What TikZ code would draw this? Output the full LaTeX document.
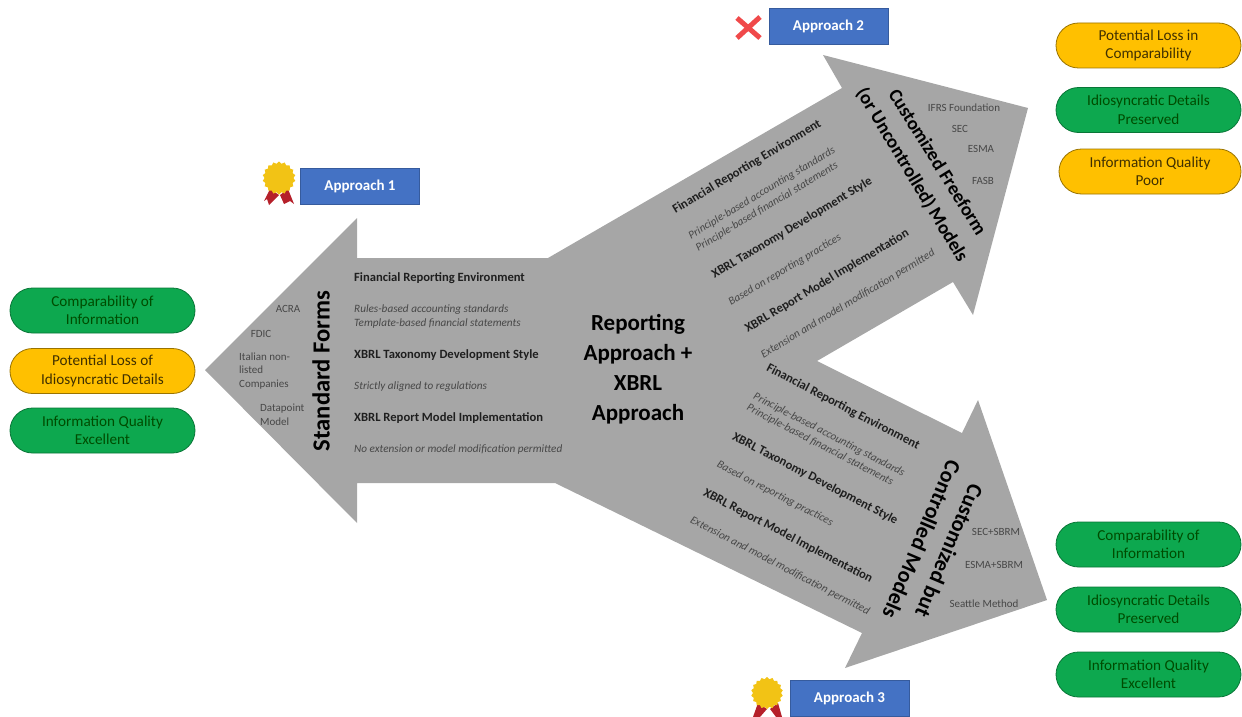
\documentclass[tikz,border=0pt]{standalone}
\usepackage{fontspec}
\setmainfont{Carlito}
\usetikzlibrary{shapes.geometric,shapes.misc}
\definecolor{arrowgray}{HTML}{A6A6A6}
\definecolor{boxblue}{HTML}{4472C4}
\definecolor{pillgreen}{HTML}{0DA84F}
\definecolor{pillyellow}{HTML}{FFC000}
\definecolor{medalgold}{HTML}{F2C315}
\definecolor{ribbonred}{HTML}{B5202A}
\definecolor{crossred}{HTML}{F0494A}
\tikzset{
  x=1pt,y=-1pt,
  pill/.style={rounded rectangle,minimum width=185pt,minimum height=45pt,inner sep=0pt,align=center,font=\fontsize{15.2}{18.5}\selectfont,line width=.8pt},
  good/.style={pill,fill=pillgreen,draw=pillgreen!70!black,text=green!30!black},
  warn/.style={pill,fill=pillyellow,draw=pillyellow!60!black,text=black!75!pillyellow},
  apbox/.style={rectangle,fill=boxblue,draw=boxblue!80!black,text=white,minimum width=119pt,minimum height=36pt,inner sep=0pt,font=\fontsize{15}{17}\bfseries\selectfont},
  head/.style={inner sep=0pt,text=black!88,font=\fontsize{12.6}{14}\bfseries\selectfont},
  note/.style={inner sep=0pt,text=black!72,font=\fontsize{11.2}{12}\itshape\selectfont},
  tag/.style={inner sep=0pt,text=black!72,font=\fontsize{11}{13.5}\selectfont,align=left},
  title/.style={inner sep=0pt,align=center,text=black,font=\fontsize{23}{27}\bfseries\selectfont},
  medalseal/.style={star,star points=18,star point ratio=1.14,fill=medalgold,draw=none,minimum size=33pt,inner sep=0pt},
}
\begin{document}
\begin{tikzpicture}
\useasboundingbox (0,0) rectangle (1242,717);
% main arrow
\fill[arrowgray] (205,370) -- (357,218) -- (357,258) -- (548,258) -- (842,88) -- (823,55) -- (1028,108) -- (973,315) -- (953,282) -- (817,361) -- (962,433) -- (978,400) -- (1047,600) -- (845,668) -- (862,633) -- (555,483) -- (357,483) -- (357,523) -- cycle;
% approach boxes
\node[apbox] (ap1) at (360,186) {\raisebox{-1pt}{Approach 1}};
\node[apbox] (ap2) at (828.5,26) {\raisebox{-1pt}{Approach 2}};
\node[apbox] (ap3) at (849.5,698) {\raisebox{-1pt}{Approach 3}};
% medal 1
\fill[ribbonred] (270,189) -- (279,195) -- (269,205) -- (267,199) -- (264,201) -- cycle;
\fill[ribbonred] (280,195) -- (288,189) -- (294,204) -- (290,201) -- (284,204) -- cycle;
\node[medalseal] (medalone) at (279,178) {};
% medal 3
\fill[ribbonred] (758,703) -- (767,709) -- (760,717) -- (753,717) -- cycle;
\fill[ribbonred] (770,709) -- (778,703) -- (782,717) -- (776,717) -- cycle;
\node[medalseal,minimum size=32pt] (medalthree) at (767,693) {};
% cross
\draw[crossred,line width=5pt] (737,18) -- (760,38) (760,17) -- (737,38);
% pills left
\node[good] (l1) at (102.5,310.5) {Comparability of\\Information};
\node[warn] (l2) at (102.5,371) {Potential Loss of\\Idiosyncratic Details};
\node[good] (l3) at (102.5,430.5) {Information Quality\\Excellent};
% pills upper right
\node[warn] (u1) at (1148.5,45.5) {Potential Loss in\\Comparability};
\node[good] (u2) at (1148.5,110) {Idiosyncratic Details\\Preserved};
\node[warn,minimum width=182pt] (u3) at (1150,171.5) {Information Quality\\Poor};
% pills lower right
\node[good] (d1) at (1148.5,544.5) {Comparability of\\Information};
\node[good] (d2) at (1148.5,609.5) {Idiosyncratic Details\\Preserved};
\node[good] (d3) at (1148.5,674.5) {Information Quality\\Excellent};
% centre
\node[title] (centre) at (638,369) {Reporting\\[3pt]Approach +\\[3pt]XBRL\\[3pt]Approach};
% left arm
\node[title,rotate=90,font=\fontsize{24.6}{28}\bfseries\selectfont] (sf) at (321,371) {Standard Forms};
\node[head,anchor=west] (a1) at (354,278) {Financial Reporting Environment};
\node[note,anchor=west] (a2) at (354,310) {Rules-based accounting standards};
\node[note,anchor=west] (a3) at (354,323.5) {Template-based financial statements};
\node[head,anchor=west] (a4) at (354,355) {XBRL Taxonomy Development Style};
\node[note,anchor=west] (a5) at (354,386.5) {Strictly aligned to regulations};
\node[head,anchor=west] (a6) at (354,418) {XBRL Report Model Implementation};
\node[note,anchor=west] (a7) at (354,450) {No extension or model modification permitted};
\node[tag] (a8) at (288,309) {ACRA};
\node[tag] (a9) at (261,334) {FDIC};
\node[tag,anchor=west] (a10) at (239,371) {Italian non-\\listed\\Companies};
\node[tag,anchor=west] (a11) at (260,414.5) {Datapoint\\Model};
% upper arm
\begin{scope}[every node/.append style={rotate=31}]
\node[head] (b1) at (747,167) {Financial Reporting Environment};
\node[note] (b2) at (762,193) {Principle-based accounting standards};
\node[note] (b3) at (767,207) {Principle-based financial statements};
\node[head] (b4) at (792,228) {XBRL Taxonomy Development Style};
\node[note] (b5) at (785,270) {Based on reporting practices};
\node[head] (b6) at (827,281) {XBRL Report Model Implementation};
\node[note] (b7) at (848,304) {Extension and model modification permitted};
\end{scope}
\node[title,rotate=-58,font=\fontsize{19}{23}\bfseries\selectfont] (b8) at (938,162) {Customized Freeform};
\node[title,rotate=-59,font=\fontsize{19}{23}\bfseries\selectfont] (b9) at (912,175) {(or Uncontrolled) Models};
\node[tag] (b10) at (964,108) {IFRS Foundation};
\node[tag] (b11) at (960,129) {SEC};
\node[tag] (b12) at (981,149) {ESMA};
\node[tag] (b13) at (983,181) {FASB};
% lower arm
\begin{scope}[every node/.append style={rotate=-27.5}]
\node[head] (c1) at (843,407) {Financial Reporting Environment};
\node[note] (c2) at (829,435) {Principle-based accounting standards};
\node[note] (c3) at (820,445) {Principle-based financial statements};
\node[head] (c4) at (815,479) {XBRL Taxonomy Development Style};
\node[note] (c5) at (775,494) {Based on reporting practices};
\node[head] (c6) at (788,536) {XBRL Report Model Implementation};
\node[note] (c7) at (780,566) {Extension and model modification permitted};
\end{scope}
\node[title,rotate=-113,font=\fontsize{22}{26}\bfseries\selectfont] (c8) at (949.5,551) {Customized but};
\node[title,rotate=-113,font=\fontsize{22}{26}\bfseries\selectfont] (c9) at (922,539.5) {Controlled Models};
\node[tag] (c10) at (996,532) {SEC+SBRM};
\node[tag] (c11) at (994,565) {ESMA+SBRM};
\node[tag] (c12) at (984,604) {Seattle Method};
\end{tikzpicture}
\end{document}
